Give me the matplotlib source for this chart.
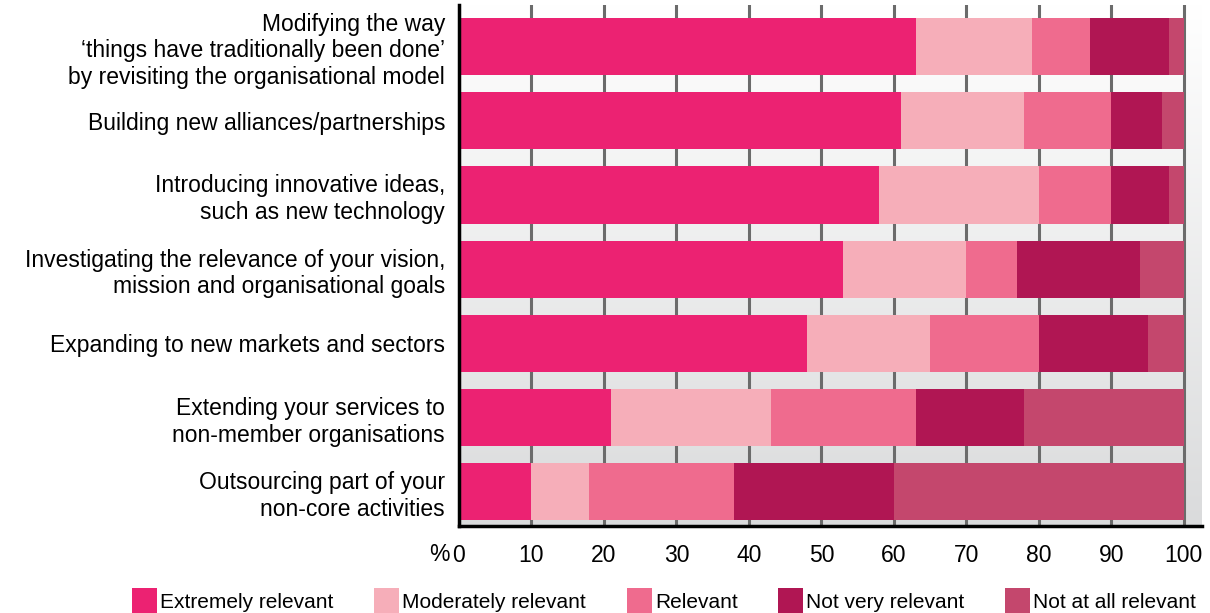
import numpy as np
import matplotlib
matplotlib.use('Agg')
from matplotlib import pyplot as plt
from matplotlib.patches import Patch

plt.rcParams['font.family'] = ['Liberation Sans', 'DejaVu Sans']

categories = [
    'Modifying the way\n\u2018things have traditionally been done\u2019\nby revisiting the organisational model',
    'Building new alliances/partnerships',
    'Introducing innovative ideas,\nsuch as new technology',
    'Investigating the relevance of your vision,\nmission and organisational goals',
    'Expanding to new markets and sectors',
    'Extending your services to\nnon-member organisations',
    'Outsourcing part of your\nnon-core activities',
]
series = ['Extremely relevant', 'Moderately relevant', 'Relevant',
          'Not very relevant', 'Not at all relevant']
extremely = [63, 61, 58, 53, 48, 21, 10]
moderately = [16, 17, 22, 17, 17, 22, 8]
relevant = [8, 12, 10, 7, 15, 20, 20]
not_very = [11, 7, 8, 17, 15, 15, 22]
not_at_all = [2, 3, 2, 6, 5, 22, 40]
xticks = [0, 10, 20, 30, 40, 50, 60, 70, 80, 90, 100]

colors = ['#ec2272', '#f6aeb9', '#ef6b8e', '#b01653', '#c4476d']

fig = plt.figure(figsize=(12.1, 6.13), dpi=100)
ax = fig.add_axes([0.3793, 0.1419, 0.614, 0.85])

ytop, ybot = -0.56, 6.46

# soft white-to-grey fade behind the bars
grad = np.linspace(0, 1, 256).reshape(-1, 1)
ax.imshow(grad, cmap=matplotlib.colors.LinearSegmentedColormap.from_list(
    'bg', ['#ffffff', '#dadbdc']), aspect='auto',
    extent=[0, 102.5, ybot, ytop], zorder=0)

y = np.arange(len(categories))
left = np.zeros(len(categories))
for name, vals, c in zip(series, [extremely, moderately, relevant, not_very, not_at_all], colors):
    ax.barh(y, vals, left=left, height=0.77, color=c, label=name, zorder=3)
    left += np.array(vals)

for t in xticks:
    ax.axvline(t, color='#6b6b6b', lw=2.2, zorder=1)

ax.set_xlim(0, 102.5)
ax.set_ylim(ybot, ytop)
ax.set_yticks(y)
ax.set_yticklabels(categories, fontsize=16.5, linespacing=1.2, ha='right')
ax.set_xticks(xticks)
ax.set_xticklabels([str(t) for t in xticks], fontsize=16.5)
ax.tick_params(axis='both', length=0)
ax.tick_params(axis='y', pad=10)
ax.tick_params(axis='x', pad=13)
ax.text(-1.3, -0.054, '%', transform=ax.get_xaxis_transform(), fontsize=16.5,
        ha='right', va='center')

for s in ['top', 'right']:
    ax.spines[s].set_visible(False)
ax.spines['left'].set_linewidth(2.5)
ax.spines['bottom'].set_linewidth(2.5)
ax.spines['left'].set_zorder(5)
ax.spines['bottom'].set_zorder(5)

handles = [Patch(facecolor=c, label=n) for n, c in zip(series, colors)]
fig.legend(handles=handles, loc='center', bbox_to_anchor=(0.549, 0.02), ncol=5,
           frameon=False, fontsize=15, handlelength=1.2, handleheight=1.5,
           handletextpad=0.15, columnspacing=1.95, borderpad=0)

fig.savefig('out.png', dpi=100)
